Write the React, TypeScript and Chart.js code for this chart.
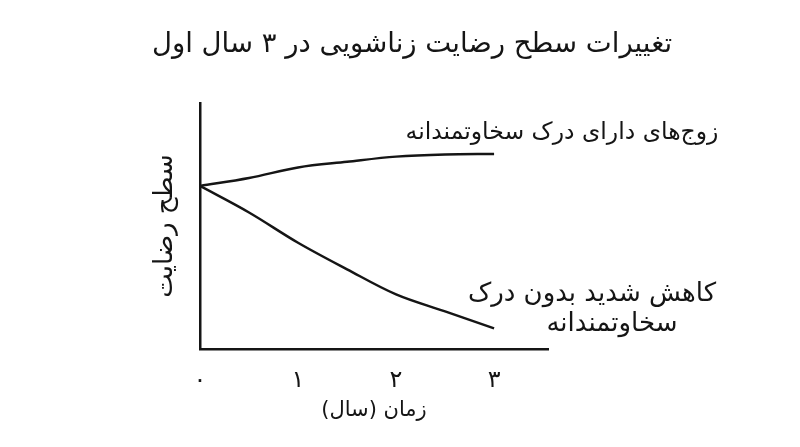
import { useEffect, useRef } from 'react'
import { Chart, registerables } from 'chart.js'

Chart.register(...registerables)

// years since marriage
const years = [0, 0.5, 1, 1.5, 2, 2.5, 3]
const yearTicks = ['۰', '۱', '۲', '۳']

// satisfaction level (0..10, unitless sketch)
const generousCouples = [6.63, 6.95, 7.38, 7.61, 7.82, 7.91, 7.93]
const sharpDecline = [6.63, 5.55, 4.32, 3.24, 2.22, 1.53, 0.84]

const chartTitle = 'تغییرات سطح رضایت زناشویی در ۳ سال اول'
const xTitle = 'زمان (سال)\u200F'
const yTitle = 'سطح رضایت'
const generousLabel = ['زوج\u200Cهای دارای درک سخاوتمندانه']
const declineLabel = ['کاهش شدید بدون درک', 'سخاوتمندانه']

const FONT = '"DejaVu Sans", "Noto Sans", sans-serif'
const INK = '#151515'

const sketchText = {
  id: 'sketchText',
  afterDraw(chart: Chart) {
    const { ctx, chartArea } = chart
    ctx.save()
    ctx.fillStyle = INK
    ctx.direction = 'rtl'
    ctx.textBaseline = 'middle'
    ctx.textAlign = 'center'

    ctx.font = `27.5px ${FONT}`
    ctx.fillText(chartTitle, 412, 45)

    const r = chartArea.right
    ctx.font = `23.5px ${FONT}`
    generousLabel.forEach((t, i) => ctx.fillText(t, r + 14, 133 + i * 30))
    ctx.font = `26px ${FONT}`
    declineLabel.forEach((t, i) => ctx.fillText(t, r + 44 + i * 20, 294 + i * 30))
    ctx.restore()
  },
}

export default function App() {
  const canvasRef = useRef<HTMLCanvasElement | null>(null)

  useEffect(() => {
    if (!canvasRef.current) return
    const chart = new Chart(canvasRef.current, {
      type: 'line',
      data: {
        datasets: [
          {
            label: generousLabel[0],
            data: years.map((x, i) => ({ x, y: generousCouples[i] })),
            borderColor: INK,
            borderWidth: 2.5,
            pointRadius: 0,
            tension: 0.35,
          },
          {
            label: declineLabel.join(' '),
            data: years.map((x, i) => ({ x, y: sharpDecline[i] })),
            borderColor: INK,
            borderWidth: 2.5,
            pointRadius: 0,
            tension: 0.35,
          },
        ],
      },
      options: {
        animation: false,
        responsive: true,
        maintainAspectRatio: false,
        layout: { padding: { top: 103, left: 147, right: 252, bottom: 20 } },
        scales: {
          x: {
            type: 'linear',
            min: 0,
            max: 3.55,
            afterBuildTicks: (scale: any) => {
              scale.ticks = yearTicks.map((_, i) => ({ value: i }))
            },
            afterFit: (scale: any) => {
              scale.height = 78
            },
            grid: { display: false, drawTicks: false },
            border: { display: true, color: INK, width: 2.5 },
            ticks: {
              autoSkip: false,
              maxRotation: 0,
              padding: 17,
              color: INK,
              font: { size: 24, family: FONT },
              callback: (v: any) => yearTicks[v] ?? '',
            },
            title: {
              display: true,
              text: xTitle,
              color: INK,
              font: { size: 21, family: FONT },
              padding: { top: 5, bottom: 4 },
            },
          },
          y: {
            min: 0,
            max: 10,
            afterFit: (scale: any) => {
              scale.width = 53
            },
            grid: { display: false, drawTicks: false },
            border: { display: true, color: INK, width: 2.5 },
            ticks: { display: false },
            title: {
              display: true,
              text: yTitle,
              color: INK,
              font: { size: 26, family: FONT },
              padding: { top: 3, bottom: 20 },
            },
          },
        },
        plugins: {
          legend: { display: false },
          tooltip: { enabled: false },
        },
      },
      plugins: [sketchText],
    })
    return () => chart.destroy()
  }, [])

  return (
    <div style={{ position: 'fixed', left: 0, top: 0, width: 800, height: 447, background: '#fff' }}>
      <canvas ref={canvasRef} />
    </div>
  )
}
